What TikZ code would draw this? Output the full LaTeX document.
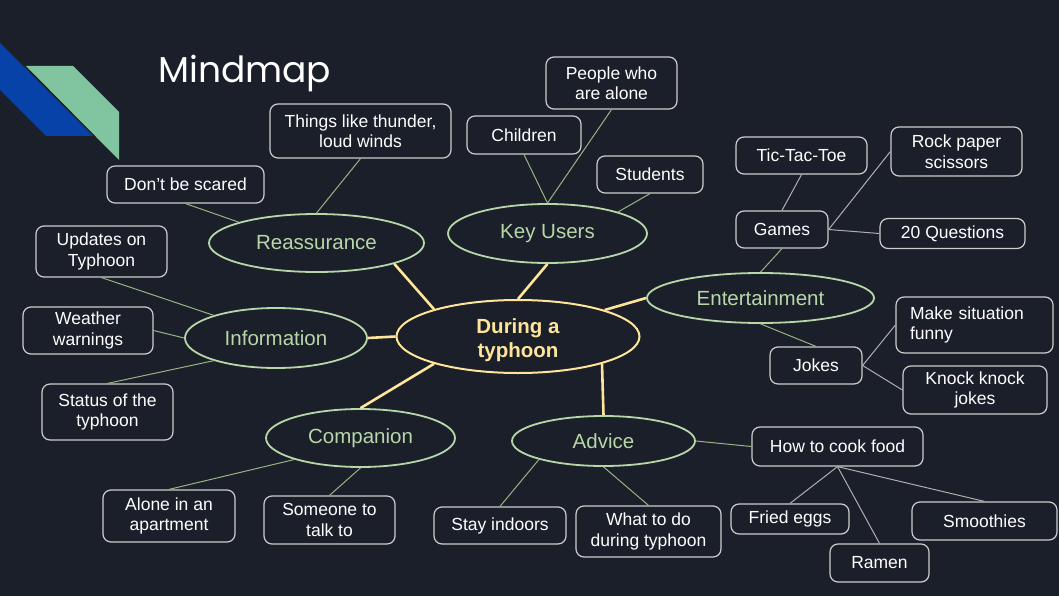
\documentclass[tikz,border=0pt]{standalone}
\usepackage{fontspec}
\setmainfont{Liberation Sans}
\newfontfamily\titlefont{Poppins}
\usetikzlibrary{shapes.geometric}

\begin{document}
\begin{tikzpicture}[x=1pt,y=-1pt,
  every node/.style={font=\fontsize{17.5}{20.5}\selectfont, text=white},
  leafbox/.style 2 args={draw=boxline, line width=1.2pt, rounded corners=8pt, align=center, inner sep=2pt, minimum width=#1, minimum height=#2},
  topic/.style 2 args={ellipse, draw=topicgreen, line width=1.8pt, text=topicgreen, font=\fontsize{20.5}{24}\selectfont, inner sep=0pt, minimum width=#1, minimum height=#2},
  hub/.style={ellipse, draw=hubyellow, line width=2pt, text=hubyellow, font=\bfseries\fontsize{20.5}{24}\selectfont, align=center, inner sep=0pt, minimum width=243, minimum height=73},
  spoke/.style={hubyellow, line width=2.6pt},
  twig/.style={twiggreen, line width=1pt},
  tie/.style={tiegray, line width=1pt}]

\definecolor{bgnavy}{RGB}{27,31,42}
\definecolor{stripeblue}{RGB}{6,66,168}
\definecolor{stripegreen}{RGB}{128,196,160}
\definecolor{hubyellow}{RGB}{255,229,153}
\definecolor{topicgreen}{RGB}{182,215,168}
\definecolor{twiggreen}{RGB}{150,180,130}
\definecolor{tiegray}{RGB}{175,175,175}
\definecolor{boxline}{RGB}{205,205,205}

% ===================== BACKGROUND =====================
\fill[bgnavy] (0,0) rectangle (1059,596);
\fill[stripeblue] (0,43) -- (93,136) -- (46,136) -- (0,90) -- cycle;
\fill[stripegreen] (26,66) -- (73,66) -- (119,112) -- (119,160) -- cycle;
\node[font=\titlefont\fontsize{36}{40}\selectfont, anchor=base west, inner sep=0pt] (title) at (158,83) {Mindmap};

% ===================== HUB + TOPICS =====================
% strut pushes the two lines down a little
\node[hub] (typhoon) at (518,336.5) {\rule{0pt}{22pt}During a\\typhoon};

\node[topic={215}{58}] (reass) at (316.5,243) {Reassurance};
\node[topic={199}{59}] (users) at (547.5,233.5) {Key Users};
\node[topic={227}{50}] (fun) at (760.5,298) {Entertainment};
\node[topic={182}{60}] (info) at (276,338) {Information};
\node[topic={189}{58}] (friend) at (360.5,438) {Companion};
\node[topic={183}{50}] (advice) at (603.5,441) {Advice};

% ===================== LEAVES =====================
% reassurance
\node[leafbox={181}{54}] (thunder) at (360.5,131) {Things like thunder,\\loud winds};
\node[leafbox={157}{37}] (scared) at (185.5,184.5) {Don’t be scared};
% key users
\node[leafbox={114}{38}] (children) at (524,135) {Children};
\node[leafbox={131}{52}] (alone) at (611.5,83) {People who\\are alone};
\node[leafbox={106}{37}] (students) at (650,174.5) {Students};
% entertainment
\node[leafbox={131}{37}] (tictac) at (801.5,155.5) {Tic-Tac-Toe};
\node[leafbox={131}{49}] (rps) at (956.5,151.5) {Rock paper\\scissors};
\node[leafbox={92}{37}] (games) at (782,229.5) {Games};
\node[leafbox={145}{30}] (twenty) at (952.5,233.5) {20 Questions};
\node[leafbox={92}{37}] (jokes) at (816,365.5) {Jokes};
\node[leafbox={157}{56}, align=left, text width=129pt, inner xsep=14pt] (funny) at (974.5,325) {Make situation\\funny};
\node[leafbox={144}{48}] (knock) at (975,390) {Knock knock\\jokes};
% information
\node[leafbox={131}{51}] (updates) at (101.5,251.5) {Updates on\\Typhoon};
\node[leafbox={130}{47}] (weather) at (88,330.5) {Weather\\warnings};
\node[leafbox={131}{56}] (status) at (107.5,412) {Status of the\\typhoon};
% companion
\node[leafbox={132}{52}] (apart) at (169,516) {Alone in an\\apartment};
\node[leafbox={131}{48}] (talk) at (329.5,520) {Someone to\\talk to};
% advice
\node[leafbox={132}{37}] (indoors) at (500,525.5) {Stay indoors};
\node[leafbox={145}{51}] (whattodo) at (648.5,531.5) {What to do\\during typhoon};
\node[leafbox={171}{39}] (cook) at (837.5,446.5) {How to cook food};
\node[leafbox={118}{30}] (eggs) at (790,519) {Fried eggs};
\node[leafbox={145}{38}] (smoothies) at (984.5,521) {Smoothies};
\node[leafbox={99}{38}] (ramen) at (879.5,563) {Ramen};

% ===================== CONNECTORS =====================
\draw[spoke] (typhoon.162) -- (reass.-15);
\draw[spoke] (typhoon.north) -- (users.south);
\draw[spoke] (typhoon.17) -- (fun.west);
\draw[spoke] (typhoon.west) -- (info.east);
\draw[spoke] (typhoon.198) -- (friend.north);
\draw[spoke] (typhoon.-18) -- (advice.north);

\draw[twig] (reass.north) -- (thunder.south);
\draw[twig] (reass.165) -- (scared.south);
\draw[twig] (users.north) -- (children.south);
\draw[twig] (users.north) -- (alone.south);
\draw[twig] (users.17) -- (students.south);
\draw[twig] (fun.north) -- (games.south);
\draw[twig] (fun.south) -- (jokes.north);
\draw[twig] (info.160) -- (updates.south);
\draw[twig] (info.west) -- (weather.east);
\draw[twig] (info.200) -- (status.north);
\draw[twig] (friend.198) -- (apart.north);
\draw[twig] (friend.south) -- (talk.north);
\draw[twig] (advice.196) -- (indoors.north);
\draw[twig] (advice.south) -- (whattodo.north);
\draw[twig] (advice.east) -- (cook.west);

% box to box
\draw[tie] (games.north) -- (tictac.south);
\draw[tie] (games.east) -- (rps.west);
\draw[tie] (games.east) -- (twenty.west);
\draw[tie] (jokes.east) -- (funny.west);
\draw[tie] (jokes.east) -- (knock.west);
\draw[tie] (cook.south) -- (eggs.north);
\draw[tie] (cook.south) -- (ramen.north);
\draw[tie] (cook.south) -- (smoothies.north);

\end{tikzpicture}
\end{document}
